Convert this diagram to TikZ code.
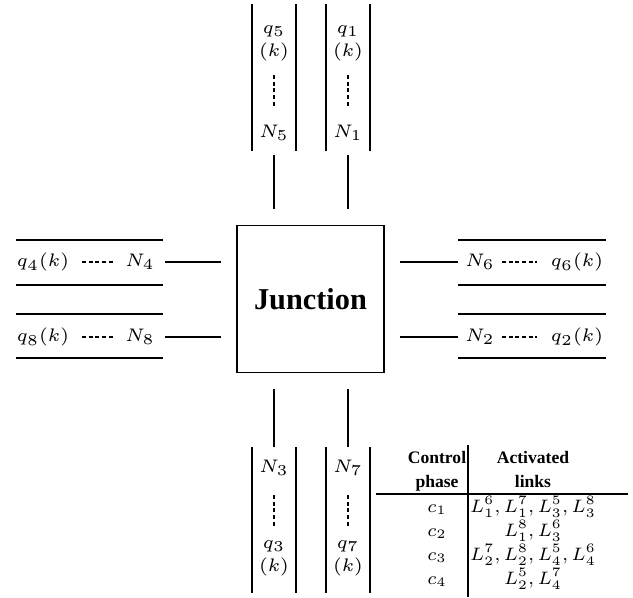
\documentclass[tikz,border=0pt]{standalone}
\usepackage[no-math]{fontspec}
\setmainfont{Liberation Serif}
\usepackage{amsmath}
\usepackage{graphicx}
\usetikzlibrary{positioning}
\newcommand{\cellmath}[1]{\scalebox{0.85}{$#1$}}

\begin{document}
\begin{tikzpicture}[
			x=0.33pt, y=-0.33pt,
			every node/.style={inner sep=0pt, font=\fontsize{6}{6.8}\selectfont},
			lane/.style={line width=0.66pt},
			link/.style={line width=0.66pt, shorten >=5pt},
			dots/.style={line width=0.55pt, dash pattern=on 1.3pt off 0.9pt},
			junction/.style={draw, line width=0.6pt, minimum size=48.5pt, font=\bfseries\fontsize{10}{12}\selectfont},
			head/.style={align=center, font=\bfseries\fontsize{5.8}{7.9}\selectfont},
			cell/.style={anchor=base, font=\fontsize{7}{8}\selectfont},
			rule/.style={line width=0.4pt}
		]
		\useasboundingbox (0,0) rectangle (633,597);

		% junction
		\node[junction] (jn) at (310.5,299) {Junction};

		% north lanes
		\draw[lane] (252,4) -- (252,151);
		\draw[lane] (296,4) -- (296,151);
		\draw[lane] (326,4) -- (326,151);
		\draw[lane] (370,4) -- (370,151);
		\node[align=center] (q5) at (274,43) {$q_5$\\[0.8pt]$(k)$};
		\node (N5) at (274,133) {$N_5$};
		\node[align=center] (q1) at (348,43) {$q_1$\\[0.8pt]$(k)$};
		\node (N1) at (348,133) {$N_1$};
		\draw[dots] (274,75) -- (274,107);
		\draw[dots] (348,75) -- (348,107);

		% south lanes
		\draw[lane] (252,447) -- (252,593);
		\draw[lane] (296,447) -- (296,593);
		\draw[lane] (326,447) -- (326,593);
		\draw[lane] (370,447) -- (370,593);
		\node (N3) at (274,468) {$N_3$};
		\node[align=center] (q3) at (274,558) {$q_3$\\[0.8pt]$(k)$};
		\node (N7) at (348,468) {$N_7$};
		\node[align=center] (q7) at (348,558) {$q_7$\\[0.8pt]$(k)$};
		\draw[dots] (274,495) -- (274,527);
		\draw[dots] (348,495) -- (348,527);

		% west lanes
		\draw[lane] (16,240) -- (163,240);
		\draw[lane] (16,285) -- (163,285);
		\draw[lane] (16,314) -- (163,314);
		\draw[lane] (16,358) -- (163,358);
		\node (q4) at (43,262) {$q_4(k)$};
		\node (N4) at (140,262) {$N_4$};
		\node (q8) at (43,337) {$q_8(k)$};
		\node (N8) at (140,337) {$N_8$};
		\draw[dots] (82,262) -- (113,262);
		\draw[dots] (82,337) -- (113,337);

		% east lanes
		\draw[lane] (458,240) -- (606,240);
		\draw[lane] (458,285) -- (606,285);
		\draw[lane] (458,314) -- (606,314);
		\draw[lane] (458,358) -- (606,358);
		\node (N6) at (480,262) {$N_6$};
		\node (q6) at (577,262) {$q_6(k)$};
		\node (N2) at (480,337) {$N_2$};
		\node (q2) at (577,337) {$q_2(k)$};
		\draw[dots] (502,262) -- (537,262);
		\draw[dots] (502,337) -- (537,337);

		% links to the junction
		\coordinate (in5) at (274,155);
		\coordinate (in1) at (348,155);
		\coordinate (in3) at (274,447);
		\coordinate (in7) at (348,447);
		\coordinate (in4) at (165,262);
		\coordinate (in8) at (165,337);
		\coordinate (in6) at (458,262);
		\coordinate (in2) at (458,337);
		\draw[link] (in5) -- (in5 |- jn.north);
		\draw[link] (in1) -- (in1 |- jn.north);
		\draw[link] (in3) -- (in3 |- jn.south);
		\draw[link] (in7) -- (in7 |- jn.south);
		\draw[link] (in4) -- (in4 -| jn.west);
		\draw[link] (in8) -- (in8 -| jn.west);
		\draw[link] (in6) -- (in6 -| jn.east);
		\draw[link] (in2) -- (in2 -| jn.east);

		% phase table
		\node[head] (hphase) at (437,471) {Control\\phase};
		\node[head] (hlinks) at (533,469) {Activated\\links};
		\draw[rule] (376,494) -- (628,494);
		\draw[rule] (468,445) -- (468,597);
		\node[cell] (c1) at (437,512) {\cellmath{c_1}};
		\node[cell] (c2) at (437,536) {\cellmath{c_2}};
		\node[cell] (c3) at (437,560) {\cellmath{c_3}};
		\node[cell] (c4) at (437,584) {\cellmath{c_4}};
		\node[cell] (l1) at (533,512) {\cellmath{L_1^6, L_1^7, L_3^5, L_3^8}};
		\node[cell] (l2) at (533,536) {\cellmath{L_1^8, L_3^6}};
		\node[cell] (l3) at (533,560) {\cellmath{L_2^7, L_2^8, L_4^5, L_4^6}};
		\node[cell] (l4) at (533,584) {\cellmath{L_2^5, L_4^7}};
	\end{tikzpicture}
\end{document}
